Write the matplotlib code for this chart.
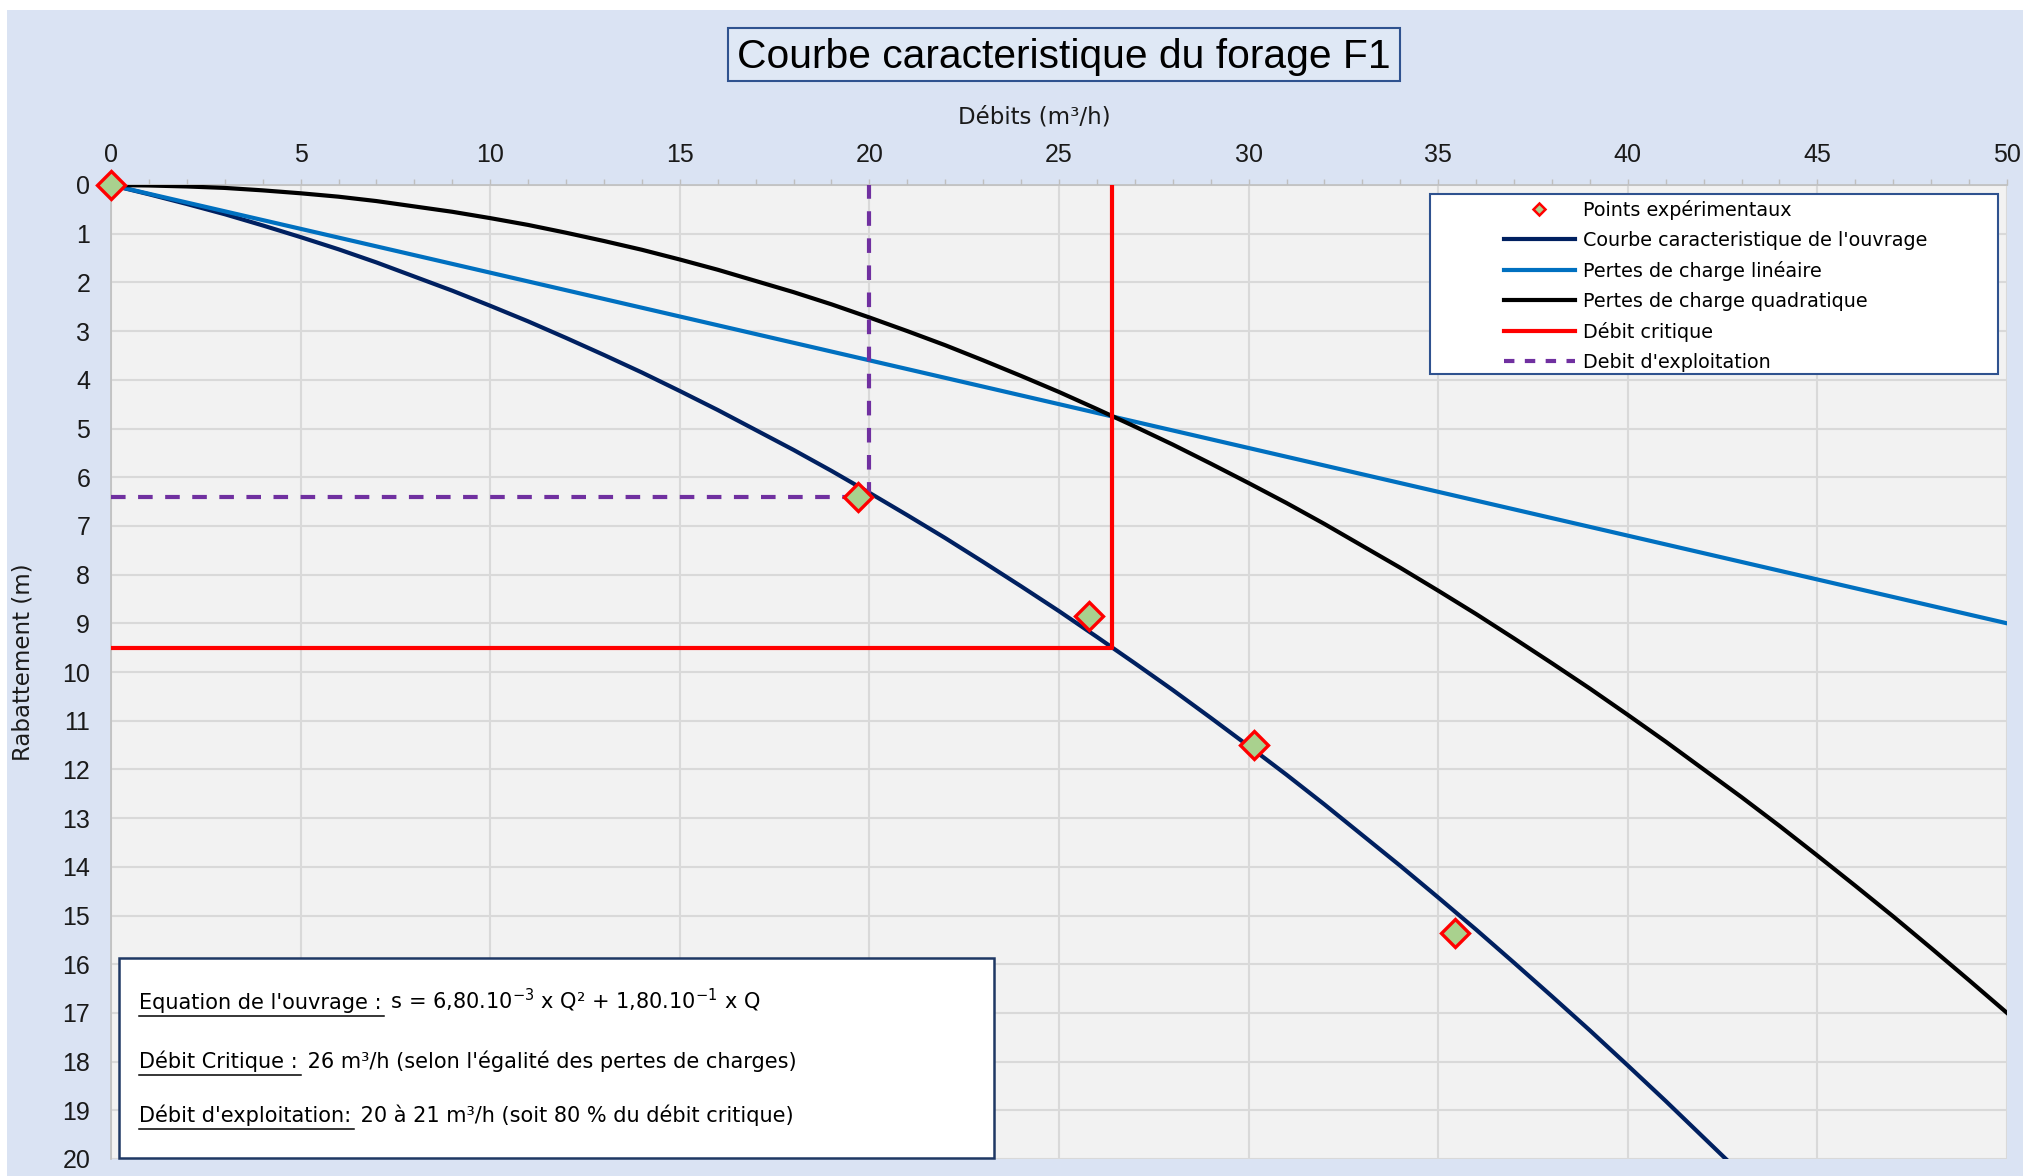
import numpy as np
import matplotlib.pyplot as plt
from matplotlib.patches import Rectangle
from matplotlib.lines import Line2D

plt.rcParams['font.family'] = ['DejaVu Sans']
plt.rcParams['mathtext.fontset'] = 'dejavusans'
plt.rcParams['mathtext.default'] = 'regular'
ARIAL = ['Liberation Sans', 'DejaVu Sans']

# debits (m3/h) et rabattements (m)
debits = list(range(0, 51))
s_ouvrage = [0, 0.19, 0.39, 0.60, 0.83, 1.07, 1.32, 1.59, 1.88, 2.17, 2.48,
             2.80, 3.14, 3.49, 3.85, 4.23, 4.62, 5.03, 5.44, 5.87, 6.32,
             6.78, 7.25, 7.74, 8.24, 8.75, 9.28, 9.82, 10.37, 10.94, 11.52,
             12.11, 12.72, 13.35, 13.98, 14.63, 15.29, 15.97, 16.66, 17.36, 18.08,
             18.81, 19.56, 20.31, 21.08, 21.87, 22.67, 23.48, 24.31, 25.15, 26.00]
s_lineaire = [0, 0.18, 0.36, 0.54, 0.72, 0.90, 1.08, 1.26, 1.44, 1.62, 1.80,
              1.98, 2.16, 2.34, 2.52, 2.70, 2.88, 3.06, 3.24, 3.42, 3.60,
              3.78, 3.96, 4.14, 4.32, 4.50, 4.68, 4.86, 5.04, 5.22, 5.40,
              5.58, 5.76, 5.94, 6.12, 6.30, 6.48, 6.66, 6.84, 7.02, 7.20,
              7.38, 7.56, 7.74, 7.92, 8.10, 8.28, 8.46, 8.64, 8.82, 9.00]
s_quadratique = [0, 0.01, 0.03, 0.06, 0.11, 0.17, 0.24, 0.33, 0.44, 0.55, 0.68,
                 0.82, 0.98, 1.15, 1.33, 1.53, 1.74, 1.97, 2.20, 2.45, 2.72,
                 3.00, 3.29, 3.60, 3.92, 4.25, 4.60, 4.96, 5.33, 5.72, 6.12,
                 6.53, 6.96, 7.41, 7.86, 8.33, 8.81, 9.31, 9.82, 10.34, 10.88,
                 11.43, 12.00, 12.57, 13.16, 13.77, 14.39, 15.02, 15.67, 16.33, 17.00]

# points experimentaux
q_exp = [0, 19.7, 25.8, 30.15, 35.45]
s_exp = [0, 6.4, 8.85, 11.5, 15.35]

# debit critique et debit d'exploitation
q_crit, s_crit = 26.4, 9.5
q_expl, s_expl = 20, 6.4

W, H = 2024, 1176
fig = plt.figure(figsize=(W / 100, H / 100), dpi=100)
fig.patch.set_facecolor('white')
fig.add_artist(Rectangle((7 / W, 0), 1 - 7 / W, 1 - 10 / H, transform=fig.transFigure,
                         facecolor='#dae3f3', edgecolor='none', zorder=-5))

ax = fig.add_axes([111 / W, 1 - 1159 / H, (2007 - 111) / W, (1159 - 185) / H])
ax.set_facecolor('#f2f2f2')

ax.plot(debits, s_ouvrage, color='#002060', lw=3, zorder=3)
ax.plot(debits, s_lineaire, color='#0070c0', lw=3, zorder=3)
ax.plot(debits, s_quadratique, color='black', lw=3, zorder=3)
ax.plot([0, q_crit, q_crit], [s_crit, s_crit, 0], color='#ff0000', lw=3, zorder=4)
ax.plot([0, q_expl, q_expl], [s_expl, s_expl, 0], color='#7030a0', lw=3,
        linestyle=(0, (3.5, 3)), zorder=4)
ax.plot(q_exp, s_exp, linestyle='none', marker='D', ms=14, mfc='#a9d18e',
        mec='#ff0000', mew=2.4, zorder=6, clip_on=False)

ax.set_xlim(0, 50)
ax.set_ylim(20, 0)
ax.xaxis.tick_top()
ax.set_xticks(np.arange(0, 51, 5))
ax.set_xticks(np.arange(0, 51, 1), minor=True)
ax.set_yticks(np.arange(0, 21, 1))
ax.tick_params(axis='x', which='both', direction='out', length=4, width=1,
               color='#bfbfbf', labelsize=18, pad=9, labelcolor='#1a1a1a')
ax.tick_params(axis='y', length=0, labelsize=18, pad=15, labelcolor='#1a1a1a')
for lab in ax.get_xticklabels() + ax.get_yticklabels():
    lab.set_family(ARIAL)
ax.grid(axis='x', which='major', color='#d9d9d9', lw=1.5)
ax.grid(axis='y', which='major', color='#d9d9d9', lw=1.5)
ax.set_axisbelow(True)
for side in ['right', 'bottom']:
    ax.spines[side].set_visible(False)
for side in ['top', 'left']:
    ax.spines[side].set_color('#bfbfbf')
    ax.spines[side].set_linewidth(1.2)

fig.text(1034 / W, 1 - 117 / H, 'Débits (m³/h)', fontsize=16.5, ha='center', va='center',
         color='#1a1a1a')
fig.text(23 / W, 1 - 662 / H, 'Rabattement (m)', fontsize=16.5, ha='center', va='center',
         rotation=90, color='#1a1a1a')

# titre
fig.add_artist(Rectangle((728 / W, 1 - 81 / H), 672 / W, 53 / H, transform=fig.transFigure,
                         facecolor='#dfe8f5', edgecolor='#2f528f', lw=1.5, zorder=2))
fig.text(1064 / W, 1 - 57 / H, 'Courbe caracteristique du forage F1', fontsize=29.3,
         family=ARIAL, ha='center', va='center', zorder=3)

# legende
fig.add_artist(Rectangle((1430 / W, 1 - 374 / H), 568 / W, 180 / H, transform=fig.transFigure,
                         facecolor='white', edgecolor='#2f528f', lw=1.5, zorder=2))
handles = [
    Line2D([], [], linestyle='none', marker='D', ms=6, mfc='#a9d18e', mec='#ff0000', mew=1.8),
    Line2D([], [], color='#002060', lw=3),
    Line2D([], [], color='#0070c0', lw=3),
    Line2D([], [], color='black', lw=3),
    Line2D([], [], color='#ff0000', lw=3),
    Line2D([], [], color='#7030a0', lw=3, linestyle=(0, (2.5, 2.5))),
]
labels = ['Points expérimentaux', "Courbe caracteristique de l'ouvrage",
          'Pertes de charge linéaire', 'Pertes de charge quadratique',
          'Débit critique', "Debit d'exploitation"]
leg = fig.legend(handles, labels, loc='upper left', bbox_to_anchor=(1504 / W, 1 - 200 / H),
                 frameon=False, fontsize=13.8, handlelength=3.7, handletextpad=0.42,
                 labelspacing=0.57, borderpad=0, borderaxespad=0)
leg.set_zorder(4)

# encadre des resultats
fig.add_artist(Rectangle((119 / W, 1 - 1158 / H), 875 / W, 200 / H, transform=fig.transFigure,
                         facecolor='white', edgecolor='#1f3864', lw=1.8, zorder=2))

renderer = fig.canvas.get_renderer()


def underlined(x_px, base_px, head, tail, size=15):
    y = 1 - base_px / H
    t = fig.text(x_px / W, y, head, fontsize=size, va='baseline', zorder=3)
    bb = t.get_window_extent(renderer=renderer)
    x_end = bb.x1 / W + 3 / W
    fig.add_artist(Line2D([x_px / W, x_end], [y - 7 / H, y - 7 / H],
                          transform=fig.transFigure, color='black', lw=1.1, zorder=3))
    fig.text(x_end, y, tail, fontsize=size, va='baseline', zorder=3)


underlined(139, 1009, "Equation de l'ouvrage :",
           ' s = 6,80.10$^{-3}$ x Q² + 1,80.10$^{-1}$ x Q')
underlined(139, 1068, 'Débit Critique :',
           " 26 m³/h (selon l'égalité des pertes de charges)")
underlined(139, 1122, "Débit d'exploitation:",
           ' 20 à 21 m³/h (soit 80 % du débit critique)')

fig.savefig('out.png', dpi=100)
